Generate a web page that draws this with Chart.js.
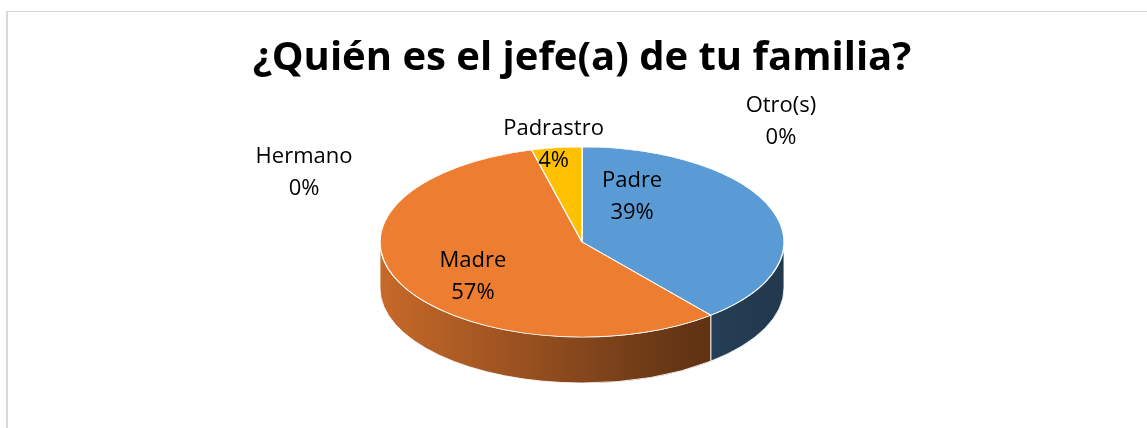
<!DOCTYPE html>
<html lang="es">
<head>
  <meta charset="UTF-8">
  <title>¿Quién es el jefe(a) de tu familia?</title>
  <script src="https://cdn.jsdelivr.net/npm/chart.js"></script>
  <style>
    html, body { margin: 0; padding: 0; background: #fff; overflow: hidden; }
    .frame {
      position: absolute; left: 6px; top: 11px; width: 1200px; height: 500px;
      border-left: 2px solid #d9d9d9; border-top: 1px solid #d9d9d9;
    }
    #pieChart { position: absolute; left: 0; top: 0; }
  </style>
</head>
<body>
  <div class="frame"></div>
  <canvas id="pieChart" width="1147" height="428"></canvas>

  <script>
    // datos
    const categorias = ['Padre', 'Madre', 'Hermano', 'Padrastro', 'Otro(s)'];
    const porcentajes = [39, 57, 0, 4, 0];
    const colores = ['#5B9BD5', '#ED7D31', '#A5A5A5', '#FFC000', '#4472C4'];

    // forma del pastel 3D (elipse + grosor)
    const RX = 202, RY = 95, GROSOR = 46;
    // posicion de cada etiqueta relativa a la elipse (u*RX, v*RY desde el centro)
    const posEtiqueta = [[0.248, -0.579], [-0.540, 0.263], [-1.376, -0.832], [-0.141, -1.126], [0.985, -1.368]];
    const FUENTE = '"Open Sans", Lato, sans-serif';

    function oscurecer(hex, f) {
      const n = parseInt(hex.slice(1), 16);
      const r = Math.round(((n >> 16) & 255) * f), g = Math.round(((n >> 8) & 255) * f), b = Math.round((n & 255) * f);
      return `rgb(${r},${g},${b})`;
    }

    const pastel3d = {
      id: 'pastel3d',
      beforeDatasetsDraw(chart) {
        const ctx = chart.ctx;
        const arcs = chart.getDatasetMeta(0).data;
        const cx = arcs[0].x, cy = arcs[0].y, r = arcs[0].outerRadius;
        // paredes laterales (solo la mitad frontal)
        arcs.forEach((arc, i) => {
          const lo = Math.max(arc.startAngle, 0), hi = Math.min(arc.endAngle, Math.PI);
          if (hi - lo <= 0.0001) return;
          const grad = ctx.createLinearGradient(cx - RX, 0, cx + RX, 0);
          grad.addColorStop(0, oscurecer(colores[i], 0.84));
          grad.addColorStop(0.75, oscurecer(colores[i], 0.42));
          grad.addColorStop(1, oscurecer(colores[i], 0.36));
          ctx.save();
          ctx.beginPath();
          ctx.ellipse(cx, cy, RX, RY, 0, lo, hi);
          ctx.lineTo(cx + RX * Math.cos(hi), cy + GROSOR + RY * Math.sin(hi));
          ctx.ellipse(cx, cy + GROSOR, RX, RY, 0, hi, lo, true);
          ctx.closePath();
          ctx.fillStyle = grad;
          ctx.fill();
          ctx.strokeStyle = 'rgba(255,255,255,0.85)';
          ctx.lineWidth = 1;
          ctx.stroke();
          ctx.restore();
        });
        // cara superior aplastada
        ctx.save();
        ctx.translate(cx, cy);
        ctx.scale(RX / r, RY / r);
        ctx.translate(-cx, -cy);
      },
      afterDatasetsDraw(chart) {
        chart.ctx.restore();
      },
      afterDraw(chart) {
        const ctx = chart.ctx;
        const arcs = chart.getDatasetMeta(0).data;
        const cx = arcs[0].x, cy = arcs[0].y;
        ctx.save();
        ctx.font = '22px ' + FUENTE;
        ctx.fillStyle = '#000';
        ctx.textAlign = 'center';
        ctx.textBaseline = 'alphabetic';
        categorias.forEach((c, i) => {
          const x = cx + RX * posEtiqueta[i][0];
          const y = cy + RY * posEtiqueta[i][1];
          ctx.fillText(c, x, y);
          ctx.fillText(porcentajes[i] + '%', x, y + 32);
        });
        ctx.restore();
      }
    };

    new Chart(document.getElementById('pieChart'), {
      type: 'pie',
      data: {
        labels: categorias,
        datasets: [{
          data: porcentajes,
          backgroundColor: colores,
          borderColor: '#ffffff',
          borderWidth: 1
        }]
      },
      options: {
        responsive: false,
        animation: false,
        layout: { padding: { left: 17, right: 0, top: 0, bottom: 44 } },
        plugins: {
          legend: { display: false },
          tooltip: { enabled: false },
          title: {
            display: true,
            text: '¿Quién es el jefe(a) de tu familia?',
            color: '#000',
            font: { family: FUENTE, size: 40, weight: 'bold', lineHeight: 1.2 },
            padding: { top: 35, bottom: 17 }
          }
        }
      },
      plugins: [pastel3d]
    });
  </script>
</body>
</html>
